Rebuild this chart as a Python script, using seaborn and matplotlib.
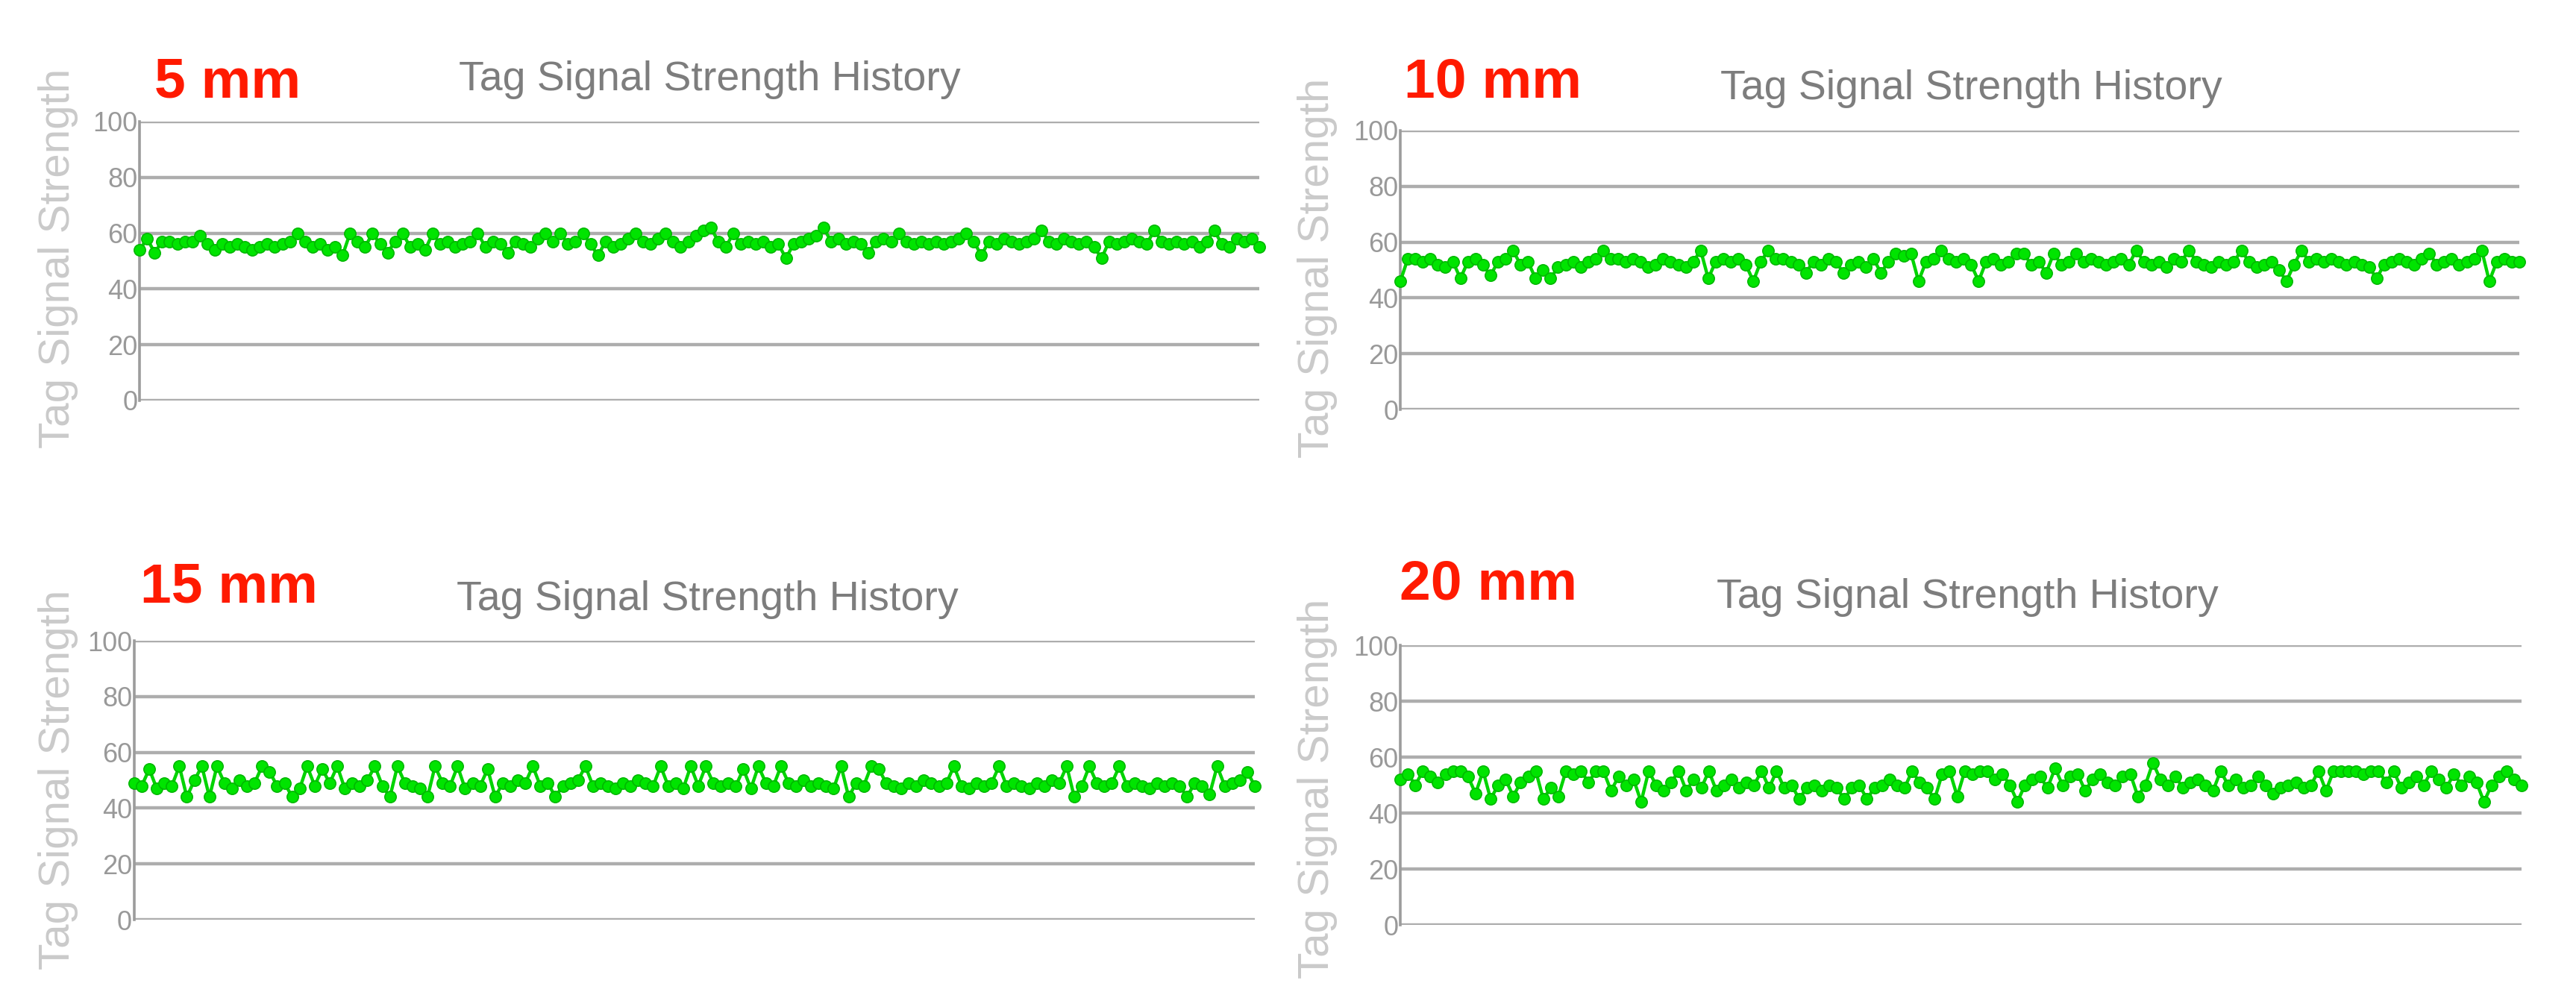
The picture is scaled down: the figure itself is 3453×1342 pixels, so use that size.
import pandas as pd
import matplotlib.pyplot as plt
import seaborn as sns
from matplotlib.ticker import MultipleLocator

sns.set_theme(style="white")
plt.rcParams['font.family'] = ['Liberation Sans', 'DejaVu Sans']

# Data (one reading per sample, 150 samples per run)
distances = ["5 mm", "10 mm", "15 mm", "20 mm"]

signal_5mm = [
    54, 58, 53, 57, 57, 56, 57, 57, 59, 56,
    54, 56, 55, 56, 55, 54, 55, 56, 55, 56,
    57, 60, 57, 55, 56, 54, 55, 52, 60, 57,
    55, 60, 56, 53, 57, 60, 55, 56, 54, 60,
    56, 57, 55, 56, 57, 60, 55, 57, 56, 53,
    57, 56, 55, 58, 60, 57, 60, 56, 57, 60,
    56, 52, 57, 55, 56, 58, 60, 57, 56, 58,
    60, 57, 55, 57, 59, 61, 62, 57, 55, 60,
    56, 57, 56, 57, 55, 56, 51, 56, 57, 58,
    59, 62, 57, 58, 56, 57, 56, 53, 57, 58,
    57, 60, 57, 56, 57, 56, 57, 56, 57, 58,
    60, 57, 52, 57, 56, 58, 57, 56, 57, 58,
    61, 57, 56, 58, 57, 56, 57, 55, 51, 57,
    56, 57, 58, 57, 56, 61, 57, 56, 57, 56,
    57, 55, 57, 61, 56, 55, 58, 57, 58, 55,
]

signal_10mm = [
    46, 54, 54, 53, 54, 52, 51, 53, 47, 53,
    54, 52, 48, 53, 54, 57, 52, 53, 47, 50,
    47, 51, 52, 53, 51, 53, 54, 57, 54, 54,
    53, 54, 53, 51, 52, 54, 53, 52, 51, 53,
    57, 47, 53, 54, 53, 54, 52, 46, 53, 57,
    54, 54, 53, 52, 49, 53, 52, 54, 53, 49,
    52, 53, 51, 54, 49, 53, 56, 55, 56, 46,
    53, 54, 57, 54, 53, 54, 52, 46, 53, 54,
    52, 53, 56, 56, 52, 53, 49, 56, 52, 53,
    56, 53, 54, 53, 52, 53, 54, 52, 57, 53,
    52, 53, 51, 54, 53, 57, 53, 52, 51, 53,
    52, 53, 57, 53, 51, 52, 53, 50, 46, 52,
    57, 53, 54, 53, 54, 53, 52, 53, 52, 51,
    47, 52, 53, 54, 53, 52, 54, 56, 52, 53,
    54, 52, 53, 54, 57, 46, 53, 54, 53, 53,
]

signal_15mm = [
    49, 48, 54, 47, 49, 48, 55, 44, 50, 55,
    44, 55, 49, 47, 50, 48, 49, 55, 53, 48,
    49, 44, 47, 55, 48, 54, 49, 55, 47, 49,
    48, 50, 55, 48, 44, 55, 49, 48, 47, 44,
    55, 49, 48, 55, 47, 49, 48, 54, 44, 49,
    48, 50, 49, 55, 48, 49, 44, 48, 49, 50,
    55, 48, 49, 48, 47, 49, 48, 50, 49, 48,
    55, 48, 49, 47, 55, 48, 55, 49, 48, 49,
    48, 54, 47, 55, 49, 48, 55, 49, 48, 50,
    48, 49, 48, 47, 55, 44, 49, 48, 55, 54,
    49, 48, 47, 49, 48, 50, 49, 48, 49, 55,
    48, 47, 49, 48, 49, 55, 48, 49, 48, 47,
    49, 48, 50, 49, 55, 44, 48, 55, 49, 48,
    49, 55, 48, 49, 48, 47, 49, 48, 49, 48,
    44, 49, 48, 45, 55, 48, 49, 50, 53, 48,
]

signal_20mm = [
    52, 54, 50, 55, 53, 51, 54, 55, 55, 53,
    47, 55, 45, 50, 52, 46, 51, 53, 55, 45,
    49, 46, 55, 54, 55, 51, 55, 55, 48, 53,
    50, 52, 44, 55, 50, 48, 51, 55, 48, 52,
    49, 55, 48, 50, 52, 49, 51, 50, 55, 49,
    55, 49, 50, 45, 49, 50, 48, 50, 49, 45,
    49, 50, 45, 49, 50, 52, 50, 49, 55, 51,
    49, 45, 54, 55, 46, 55, 54, 55, 55, 52,
    54, 50, 44, 50, 52, 53, 49, 56, 50, 53,
    54, 48, 52, 54, 51, 50, 53, 54, 46, 50,
    58, 52, 50, 53, 49, 51, 52, 50, 48, 55,
    50, 52, 49, 50, 53, 50, 47, 49, 50, 51,
    49, 50, 55, 48, 55, 55, 55, 55, 54, 55,
    55, 51, 55, 49, 51, 53, 50, 55, 52, 49,
    54, 50, 53, 51, 44, 50, 53, 55, 52, 50,
]

chart_title = "Tag Signal Strength History"
y_label = "Tag Signal Strength"
y_ticks = [0, 20, 40, 60, 80, 100]

series = [signal_5mm, signal_10mm, signal_15mm, signal_20mm]

# layout (figure fractions)
axes_boxes = [
    [0.0542, 0.5999, 0.4347, 0.2787],
    [0.5436, 0.5909, 0.4344, 0.2787],
    [0.0521, 0.0812, 0.4350, 0.2787],
    [0.5436, 0.0760, 0.4353, 0.2794],
]
dist_pos = [(0.0599, 0.9031), (0.5450, 0.9024), (0.0544, 0.3980), (0.5433, 0.4010)]
title_pos = [(0.1781, 0.9098), (0.6678, 0.9010), (0.1772, 0.3905), (0.6664, 0.3930)]
ylabel_pos = [(0.0226, 0.742), (0.5114, 0.732), (0.0226, 0.221), (0.5114, 0.212)]

fig = plt.figure(figsize=(34.53, 13.42), dpi=100)
fig.patch.set_facecolor("white")

for i, values in enumerate(series):
    df = pd.DataFrame({"Sample": range(len(values)), "Signal": values})
    ax = fig.add_axes(axes_boxes[i])
    sns.lineplot(data=df, x="Sample", y="Signal", ax=ax, color="#00d400",
                 linewidth=3.2, marker="o", markersize=11,
                 markerfacecolor="#00e400", markeredgecolor="#00b800",
                 markeredgewidth=1.2, clip_on=False, zorder=3)

    ax.set_xlim(0, len(values) - 1)
    ax.set_ylim(0, 100)
    ax.set_yticks(y_ticks)
    ax.yaxis.set_minor_locator(MultipleLocator(10))
    ax.set_xticks([])
    ax.set_xlabel("")
    ax.set_ylabel("")
    ax.set_axisbelow(True)
    ax.grid(axis="y", color="#adadad", linewidth=3.2)
    for side in ["top", "right", "bottom"]:
        ax.spines[side].set_visible(False)
    ax.spines["left"].set_color("#9c9c9c")
    ax.spines["left"].set_linewidth(2.6)
    ax.tick_params(axis="y", which="major", direction="out", length=7, width=2.6,
                   color="#a8a8a8", pad=-5, labelsize=26, labelcolor="#999999")
    ax.tick_params(axis="y", which="minor", direction="out", length=3, width=2.6,
                   color="#a8a8a8")

    fig.text(dist_pos[i][0], dist_pos[i][1], distances[i], color="#ff1a00",
             fontsize=54, fontweight="bold", ha="left", va="baseline")
    fig.text(title_pos[i][0], title_pos[i][1], chart_title, color="#7d7d7d",
             fontsize=40, ha="left", va="baseline")
    fig.text(ylabel_pos[i][0], ylabel_pos[i][1], y_label, color="#cacaca",
             fontsize=42, rotation=90, ha="center", va="center")

fig.savefig("out.png", dpi=100, facecolor="white")
